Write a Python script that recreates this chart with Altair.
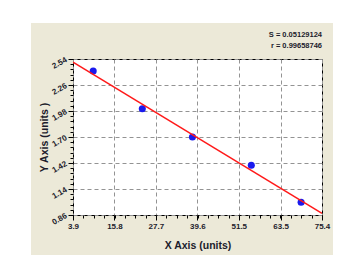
import altair as alt
import pandas as pd

# data
x_vals = [9.7, 23.8, 38.2, 55.1, 69.4]
y_vals = [2.41, 2.005, 1.70, 1.395, 0.997]
x_ticks = [3.9, 15.8, 27.7, 39.6, 51.5, 63.5, 75.4]
y_ticks = [0.86, 1.14, 1.42, 1.70, 1.98, 2.26, 2.54]
stats = ["S = 0.05129124", "r = 0.99658746"]
x_title = "X Axis (units)"
y_title = "Y Axis (units )"

x_minor = [round(3.9 + k * (75.4 - 3.9) / 24, 4) for k in range(25)]
y_minor = [round(0.86 + k * 0.056, 4) for k in range(31)]

FONT = "Liberation Sans, Arial, sans-serif"
TXT = "#1c1c2c"

df = pd.DataFrame({"x": x_vals, "y": y_vals})
one = pd.DataFrame({"a": [0]})

xs = alt.Scale(domain=[3.9, 75.4], nice=False, zero=False)
ys = alt.Scale(domain=[0.86, 2.54], nice=False, zero=False)

xaxis = alt.Axis(values=x_ticks, format=".1f", title=x_title, grid=True,
                 gridDash=[4, 3], gridColor="#939393", gridWidth=1,
                 domain=False, tickColor="black", tickSize=5,
                 labelFont=FONT, labelFontSize=8, labelFontWeight="bold",
                 labelColor=TXT, labelPadding=2, labelFlush=False,
                 titleFont=FONT, titleFontSize=10.5, titleFontWeight="bold",
                 titleColor=TXT, titleX=124.5, titleY=30, titleBaseline="middle",
                 orient="bottom")
yaxis = alt.Axis(values=y_ticks, format=".2f", title=y_title, grid=True,
                 gridDash=[4, 3], gridColor="#939393", gridWidth=1,
                 domain=False, tickColor="black", tickSize=5,
                 labelFont=FONT, labelFontSize=8, labelFontWeight="bold",
                 labelColor=TXT, labelPadding=2, labelAngle=330,
                 labelAlign="right", labelBaseline="middle", labelFlush=False,
                 titleFont=FONT, titleFontSize=10.5, titleFontWeight="bold",
                 titleColor=TXT, titleX=-29, titleY=78, titleAngle=270,
                 titleAlign="center", titleBaseline="middle", orient="left")

points = alt.Chart(df).mark_point(filled=True, shape="circle", size=50,
                                  color="#1a1aee", opacity=1).encode(
    x=alt.X("x:Q", scale=xs, axis=xaxis),
    y=alt.Y("y:Q", scale=ys, axis=yaxis),
)

line = alt.Chart(df).transform_regression(
    "x", "y", extent=[3.9, 75.4]
).mark_line(color="#ff1a1a", strokeWidth=1.5, clip=True).encode(
    x=alt.X("x:Q", scale=xs, axis=None),
    y=alt.Y("y:Q", scale=ys, axis=None),
)

minor = alt.Chart(df).mark_point(opacity=0).encode(
    x=alt.X("x:Q", scale=xs, axis=alt.Axis(values=x_minor, labels=False, grid=False,
                                           domain=False, tickSize=3, tickColor="black",
                                           title=None, orient="bottom")),
    y=alt.Y("y:Q", scale=ys, axis=alt.Axis(values=y_minor, labels=False, grid=False,
                                           domain=False, tickSize=3, tickColor="black",
                                           title=None, orient="left")),
)

def strip(x1, x2, y1, y2):
    return alt.Chart(one).mark_rect(color="white", clip=False).encode(
        x=alt.value(x1), x2=alt.value(x2), y=alt.value(y1), y2=alt.value(y2))

top = strip(-73, 288, -59, -36)
left = strip(-73, -42, -59, 196)
right = strip(260, 288, -59, 196)

def stat_text(t, yy):
    return alt.Chart(one).mark_text(align="right", baseline="middle", font=FONT,
                                    fontSize=7.5, fontWeight="bold", color=TXT,
                                    clip=False).encode(
        x=alt.value(249), y=alt.value(yy), text=alt.value(t))

s1 = stat_text(stats[0], -24)
s2 = stat_text(stats[1], -13)

chart = alt.layer(points, minor, line, top, left, right, s1, s2).resolve_axis(
    x="independent", y="independent"
).properties(
    width=249, height=156,
    autosize=alt.AutoSizeParams(type="none"),
    padding={"left": 73, "top": 59, "right": 39, "bottom": 40},
    background="#ECE9D8",
).configure_view(fill="white", stroke="black", strokeWidth=1)

chart.save("out.html", embed_options={"renderer": "svg", "actions": False})
